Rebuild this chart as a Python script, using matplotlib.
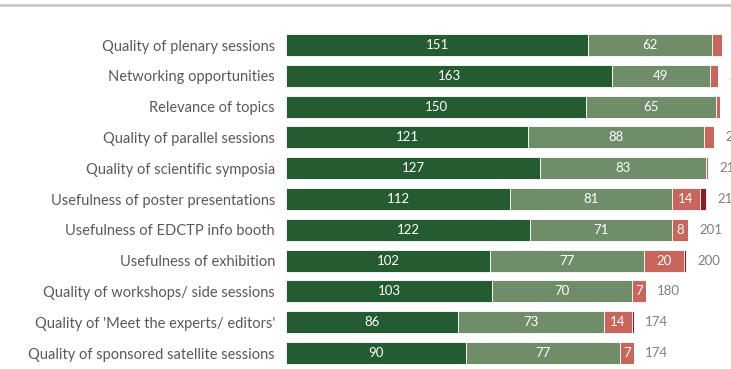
import matplotlib.pyplot as plt
from matplotlib.lines import Line2D

# survey items, top to bottom
items = [
    "Quality of plenary sessions",
    "Networking opportunities",
    "Relevance of topics",
    "Quality of parallel sessions",
    "Quality of scientific symposia",
    "Usefulness of poster presentations",
    "Usefulness of EDCTP info booth",
    "Usefulness of exhibition",
    "Quality of workshops/ side sessions",
    "Quality of 'Meet the experts/ editors'",
    "Quality of sponsored satellite sessions",
]
very_good = [151, 163, 150, 121, 127, 112, 122, 102, 103, 86, 90]
good = [62, 49, 65, 88, 83, 81, 71, 77, 70, 73, 77]
poor = [5, 4, 2, 5, 1, 14, 8, 20, 7, 14, 7]
very_poor = [0, 0, 0, 0, 0, 3, 0, 1, 0, 1, 0]
totals = [218, 216, 217, 214, 211, 210, 201, 200, 180, 174, 174]

colors = ["#255b31", "#6f8d69", "#c9665c", "#8c1b2b"]
series = [very_good, good, poor, very_poor]

W, H = 731, 369
fig = plt.figure(figsize=(W / 100, H / 100), dpi=100)
fig.patch.set_facecolor("white")

# axes spans from x=286px to the right edge, 2px per unit
ax = fig.add_axes([286 / W, 0, 445 / W, 1])
ax.set_xlim(0, 445 / 2)
row0, step = 45, 30.8
ax.set_ylim((H - row0) / step, -row0 / step)

ys = list(range(len(items)))
left = [0] * len(items)
for vals, col in zip(series, colors):
    ax.barh(ys, vals, left=left, height=0.72, color=col, edgecolor="white", linewidth=0.6)
    for y, v, l in zip(ys, vals, left):
        if v >= 7:
            ax.text(l + v / 2, y, str(v), ha="center", va="center",
                    color="white", fontsize=9.5, family="Lato")
    left = [a + b for a, b in zip(left, vals)]

for y, t, l in zip(ys, totals, left):
    ax.text(l + 5.5, y, str(t), ha="left", va="center", color="#7f7f7f",
            fontsize=9.5, family="Lato", clip_on=False)

ax.set_yticks(ys)
ax.set_yticklabels(items, fontsize=10.5, color="#595959", family="Lato")
ax.tick_params(axis="y", length=0, pad=8)
ax.set_xticks([])
for s in ax.spines.values():
    s.set_visible(False)

# thin rule along the top
fig.add_artist(Line2D([0, 1], [1 - 4.5 / H, 1 - 4.5 / H], color="#c8c8c8", linewidth=2))

fig.savefig("out.png", dpi=100)
